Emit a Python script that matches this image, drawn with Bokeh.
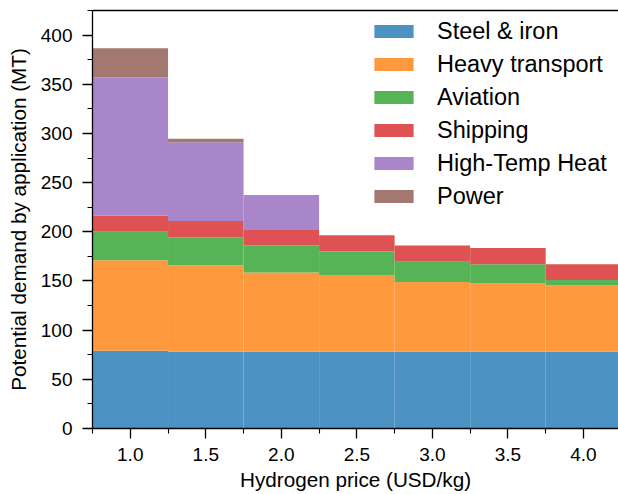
from bokeh.plotting import figure
from bokeh.models import Range1d, FixedTicker, LinearAxis, PrintfTickFormatter
from bokeh.embed import file_html
from bokeh.resources import INLINE

prices = [1.0, 1.5, 2.0, 2.5, 3.0, 3.5, 4.0]
steel = [79, 78, 78, 78, 78, 78, 78]
heavy = [92, 88, 80.5, 78, 71, 69.5, 67.5]
aviation = [29, 28.5, 27.5, 24, 20.5, 19.5, 5.5]
shipping = [16.5, 16.5, 16.5, 16.5, 16.5, 16.5, 16]
heat = [140.5, 80, 35, 0, 0, 0, 0]
power = [29.5, 3.5, 0, 0, 0, 0, 0]

series_names = ["Steel & iron", "Heavy transport", "Aviation", "Shipping", "High-Temp Heat", "Power"]
series_keys = ["steel", "heavy", "aviation", "shipping", "heat", "power"]
colors = ["#4c92c3", "#ff993e", "#56b356", "#de5253", "#a985ca", "#a37870"]

x_ticks = [1.0, 1.5, 2.0, 2.5, 3.0, 3.5, 4.0]
x_minor = [0.75, 1.25, 1.75, 2.25, 2.75, 3.25, 3.75]
y_ticks = [0, 50, 100, 150, 200, 250, 300, 350, 400]
y_minor = [25, 75, 125, 175, 225, 275, 325, 375, 425]

data = dict(price=prices, steel=steel, heavy=heavy, aviation=aviation,
            shipping=shipping, heat=heat, power=power)

FONT = "Liberation Sans"

p = figure(width=618, height=494, output_backend="svg", toolbar_location=None,
           x_range=Range1d(0.75, 4.232), y_range=Range1d(0, 425),
           min_border_left=92, min_border_right=0, min_border_top=10, min_border_bottom=66)
p.outline_line_color = None
p.grid.visible = False
p.background_fill_color = "white"

p.vbar_stack(series_keys, x="price", width=0.5, source=data, color=colors,
             line_color=None, legend_label=series_names)

for ax in (p.xaxis[0], p.yaxis[0]):
    ax.axis_line_color = "black"
    ax.axis_line_width = 1.3
    ax.major_tick_line_color = "black"
    ax.major_tick_line_width = 1.3
    ax.minor_tick_line_color = "black"
    ax.minor_tick_line_width = 1.1
    ax.major_tick_out = 10
    ax.major_tick_in = 0
    ax.minor_tick_out = 5
    ax.minor_tick_in = 0
    ax.major_label_text_font = FONT
    ax.major_label_text_font_size = "19px"
    ax.major_label_text_color = "black"
    ax.axis_label_text_font = FONT
    ax.axis_label_text_font_size = "20.7px"
    ax.axis_label_text_font_style = "normal"
    ax.axis_label_text_color = "black"

p.xaxis[0].ticker = FixedTicker(ticks=x_ticks, minor_ticks=x_minor)
p.xaxis[0].formatter = PrintfTickFormatter(format="%.1f")
p.yaxis[0].ticker = FixedTicker(ticks=y_ticks, minor_ticks=y_minor)
p.xaxis[0].axis_label = "Hydrogen price (USD/kg)"
p.yaxis[0].axis_label = "Potential demand by application (MT)"
p.xaxis[0].major_label_standoff = 9
p.xaxis[0].axis_label_standoff = 4
p.yaxis[0].major_label_standoff = 10
p.yaxis[0].axis_label_standoff = 8

top = LinearAxis(ticker=FixedTicker(ticks=[]), major_label_text_font_size="0px",
                 axis_line_color="black", axis_line_width=1.3,
                 major_tick_line_color=None, minor_tick_line_color=None)
p.add_layout(top, "above")

lg = p.legend[0]
lg.location = (277, 218.5)
lg.label_text_font = FONT
lg.label_text_font_size = "23.5px"
lg.label_text_color = "black"
lg.glyph_width = 49
lg.glyph_height = 16
lg.label_height = 27
lg.label_standoff = 19
lg.spacing = 6
lg.padding = 0
lg.margin = 0
lg.border_line_color = None
lg.background_fill_alpha = 0

open("out.html", "w").write(file_html(p, INLINE))
